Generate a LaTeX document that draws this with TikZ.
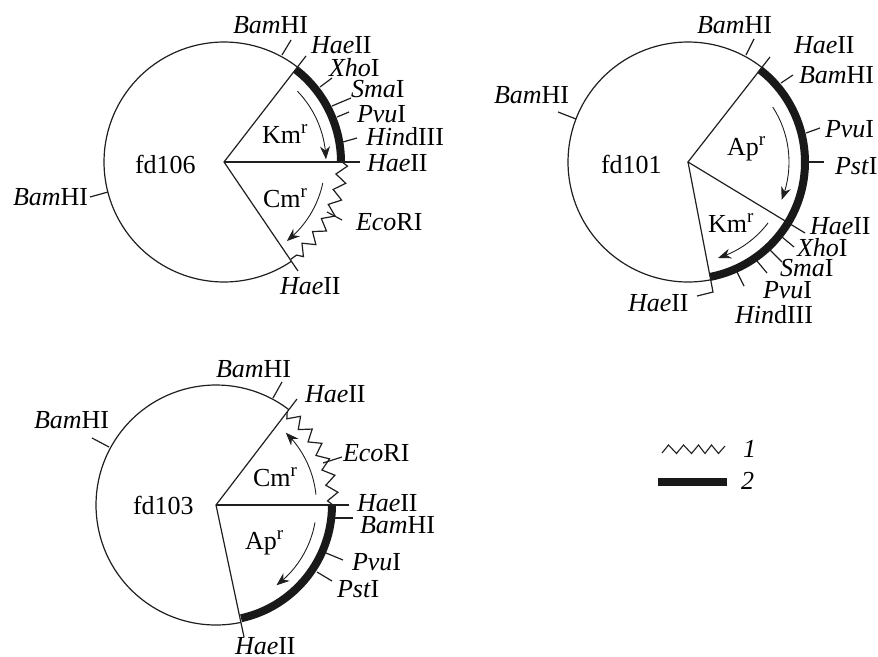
\documentclass[tikz,border=0pt]{standalone}
\usepackage{fontspec}
\setmainfont{Liberation Serif}
\usetikzlibrary{arrows.meta,decorations.pathmorphing,bending}
\newcommand{\rs}[2]{\textit{#1}#2}
\newcommand{\resis}[1]{#1\raisebox{9.5pt}{\fontsize{19}{19}\selectfont r}}
\tikzset{
  x=1pt,y=-1pt,
  lbl/.style={anchor=base west,inner sep=0pt,outer sep=0pt,font=\fontsize{26}{26}\selectfont},
  thin line/.style={line width=1.2pt,draw=black!88},
  thick arc/.style={line width=8pt,draw=black!90},
  wave/.style={line width=1.2pt,draw=black!88,decorate,decoration={zigzag,segment length=16.5pt,amplitude=5.5pt}},
  dir arrow/.style={line width=0.9pt,draw=black!88,-{Stealth[length=13pt,width=10pt,flex]}},
}
\begin{document}
\begin{tikzpicture}
\useasboundingbox (0,0) rectangle (878,656);
% ---------- fd106
\coordinate (A) at (224,162);
\draw[thin line] (A) ++(52.3:120pt) arc[start angle=52.3,end angle=304.2,radius=120pt];
\draw[thick arc] (A) ++(52.3:117pt) arc[start angle=52.3,end angle=0,radius=117pt];
\draw[wave] (A) ++(0:118pt) arc[start angle=0,end angle=-55.5,radius=118pt];
\coordinate (a1) at (306,56);
\coordinate (a2) at (360,162);
\coordinate (a3) at (298,271);
\draw[thin line] (a1) -- (A) -- (a3);
\draw[thin line] (A) -- (a2);
\draw[thin line] (282,55) -- (291,40);
\draw[thin line] (320,87) -- (332,78);
\draw[thin line] (332,106) -- (351,98);
\draw[thin line] (337,117) -- (349,112);
\draw[thin line] (343,142) -- (357,138);
\draw[thin line] (327,212) -- (342,220);
\draw[thin line] (90,197) -- (108,192);
\draw[dir arrow] (A) ++(44:102pt) arc[start angle=44,end angle=1.5,radius=102pt];
\draw[dir arrow] (A) ++(-12:101pt) arc[start angle=-12,end angle=-51.5,radius=101pt];
\node[lbl] (a4) at (233,33) {\rs{Bam}{HI}};
\node[lbl] (a5) at (311,53) {\rs{Hae}{II}};
\node[lbl] (a6) at (329,76) {\rs{Xho}{I}};
\node[lbl] (a7) at (351,97) {\rs{Sma}{I}};
\node[lbl] (a8) at (357,122) {\rs{Pvu}{I}};
\node[lbl] (a9) at (366,145) {\rs{Hin}{dIII}};
\node[lbl] (a10) at (367,171) {\rs{Hae}{II}};
\node[lbl] (a11) at (356,230) {\rs{Eco}{RI}};
\node[lbl] (a12) at (280,294) {\rs{Hae}{II}};
\node[lbl] (a13) at (13,205) {\rs{Bam}{HI}};
\node[lbl] (a14) at (135,173) {fd106};
\node[lbl] (a15) at (262,143) {\resis{Km}};
\node[lbl] (a16) at (263,207) {\resis{Cm}};
% ---------- fd101
\coordinate (B) at (688,162);
\draw[thin line] (B) ++(52.3:120pt) arc[start angle=52.3,end angle=280.8,radius=120pt];
\draw[thick arc] (B) ++(52.3:117pt) arc[start angle=52.3,end angle=-79,radius=117pt];
\coordinate (b1) at (770,57);
\coordinate (b2) at (805,233);
\coordinate (b3) at (713,292);
\coordinate (b4) at (697,296);
\draw[thin line] (b1) -- (B) -- (b2);
\draw[thin line] (B) -- (b3) -- (b4);
\draw[thin line] (746,55) -- (754,39);
\draw[thin line] (781,83) -- (793,75);
\draw[thin line] (806,133) -- (820,128);
\draw[thin line] (808,162) -- (824,162);
\draw[thin line] (782,237) -- (794,247);
\draw[thin line] (770,250) -- (782,262);
\draw[thin line] (757,261) -- (767,273);
\draw[thin line] (737,272) -- (744,286);
\draw[thin line] (558,112) -- (576,119);
\draw[dir arrow] (B) ++(33:101pt) arc[start angle=33,end angle=-22,radius=101pt];
\draw[dir arrow] (B) ++(-37.3:100.6pt) arc[start angle=-37.3,end angle=-72.6,radius=100.6pt];
\node[lbl] (b5) at (697,33) {\rs{Bam}{HI}};
\node[lbl] (b6) at (794,53) {\rs{Hae}{II}};
\node[lbl] (b7) at (799,83) {\rs{Bam}{HI}};
\node[lbl] (b8) at (825,137) {\rs{Pvu}{I}};
\node[lbl] (b9) at (835,174) {\rs{Pst}{I}};
\node[lbl] (b10) at (810,234) {\rs{Hae}{II}};
\node[lbl] (b11) at (797,256) {\rs{Xho}{I}};
\node[lbl] (b12) at (780,276) {\rs{Sma}{I}};
\node[lbl] (b13) at (763,298) {\rs{Pvu}{I}};
\node[lbl] (b14) at (735,323) {\rs{Hin}{dIII}};
\node[lbl] (b15) at (628,311) {\rs{Hae}{II}};
\node[lbl] (b16) at (494,103) {\rs{Bam}{HI}};
\node[lbl] (b17) at (601,173) {fd101};
\node[lbl] (b18) at (727,155) {\resis{Ap}};
\node[lbl] (b19) at (708,232) {\resis{Km}};
% ---------- fd103
\coordinate (C) at (216,505);
\draw[thin line] (C) ++(52.6:120pt) arc[start angle=52.6,end angle=282,radius=120pt];
\draw[thick arc] (C) ++(0:116pt) arc[start angle=0,end angle=-77.5,radius=116pt];
\draw[wave] (C) ++(0:117pt) arc[start angle=0,end angle=52.6,radius=117pt];
\coordinate (c1) at (297,399);
\coordinate (c2) at (349,505);
\coordinate (c3) at (244,637);
\draw[thin line] (c1) -- (C) -- (c3);
\draw[thin line] (C) -- (c2);
\draw[thin line] (273,398) -- (282,382);
\draw[thin line] (323,463) -- (342,457);
\draw[thin line] (335,518) -- (353,518);
\draw[thin line] (326,553) -- (343,560);
\draw[thin line] (317,572) -- (332,581);
\draw[thin line] (92,438) -- (109,447);
\draw[dir arrow] (C) ++(6:100.5pt) arc[start angle=6,end angle=46,radius=100.5pt];
\draw[dir arrow] (C) ++(-10:100.5pt) arc[start angle=-10,end angle=-53,radius=100.5pt];
\node[lbl] (c4) at (216,377) {\rs{Bam}{HI}};
\node[lbl] (c5) at (305,402) {\rs{Hae}{II}};
\node[lbl] (c6) at (343,461) {\rs{Eco}{RI}};
\node[lbl] (c7) at (357,511) {\rs{Hae}{II}};
\node[lbl] (c8) at (360,533) {\rs{Bam}{HI}};
\node[lbl] (c9) at (352,570) {\rs{Pvu}{I}};
\node[lbl] (c10) at (337,597) {\rs{Pst}{I}};
\node[lbl] (c11) at (235,654) {\rs{Hae}{II}};
\node[lbl] (c12) at (34,428) {\rs{Bam}{HI}};
\node[lbl] (c13) at (133,514) {fd103};
\node[lbl] (c14) at (253,486) {\resis{Cm}};
\node[lbl] (c15) at (245,549) {\resis{Ap}};
% ---------- legend
\coordinate (l1) at (662,453);
\draw[line width=1.1pt,draw=black!88,line join=miter] (l1) -- (668.5,445) -- (676.5,453.5) -- (683.5,445) -- (691.5,453.5) -- (698.5,445) -- (705,453.5) -- (711.5,445) -- (718.5,453.5) -- (725,446);
\coordinate (l2) at (658,482);
\coordinate (l3) at (727,482);
\draw[line width=8pt,draw=black!90] (l2) -- (l3);
\node[lbl] (l4) at (743,457) {\textit{1}};
\node[lbl] (l5) at (741,489) {\textit{2}};
\end{tikzpicture}
\end{document}
